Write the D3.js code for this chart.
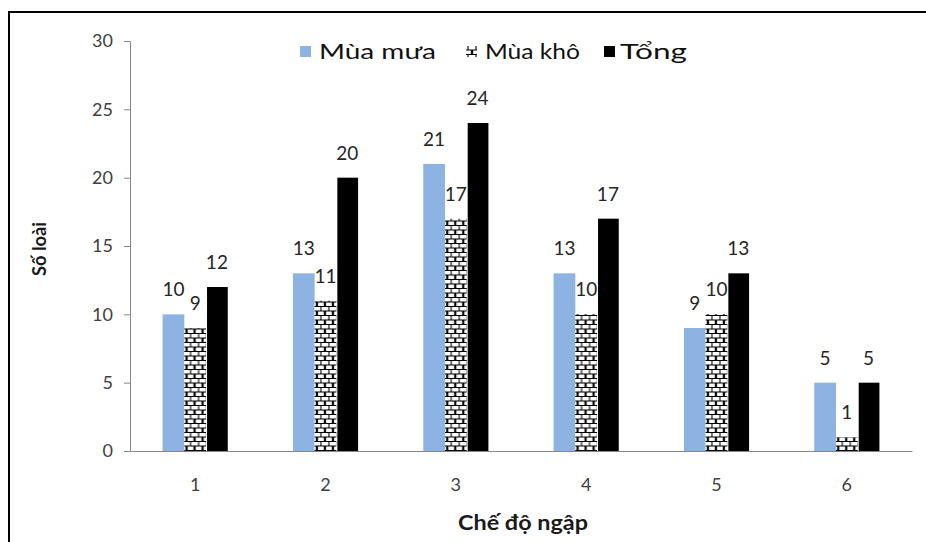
<!DOCTYPE html>
<html>
<head>
<meta charset="utf-8">
<script src="https://cdn.jsdelivr.net/npm/d3@7"></script>
<style>
  html, body { margin: 0; padding: 0; background: #fff; }
  svg { display: block; }
  text { font-family: Lato, "Open Sans", sans-serif; }
</style>
</head>
<body>
<svg id="chart" width="926" height="542"></svg>
<script>
// Flooding regime categories and species counts per season
const categories = ["1", "2", "3", "4", "5", "6"];
const seriesNames = ["Mùa mưa", "Mùa khô", "Tổng"];
const muaMua = [10, 13, 21, 13, 9, 5];
const muaKho = [9, 11, 17, 10, 10, 1];
const tong   = [12, 20, 24, 17, 13, 5];
const yTicks = [0, 5, 10, 15, 20, 25, 30];

const seriesValues = [muaMua, muaKho, tong];
const svg = d3.select("#chart");

// brick hatch for the dry-season bars
const defs = svg.append("defs");
const pat = defs.append("pattern")
  .attr("id", "brick").attr("patternUnits", "userSpaceOnUse")
  .attr("width", 8).attr("height", 9);
pat.append("rect").attr("width", 8).attr("height", 9).attr("fill", "#fff");
pat.append("path").attr("stroke", "#000").attr("stroke-width", 1.1).attr("fill", "none")
  .attr("d", "M0,0.5H8 M0,5H8 M4,0.5V5 M0.6,5V9 M7.4,5V9");

const fills = ["#8db3e2", "url(#brick)", "#000"];

// outer frame
svg.append("rect").attr("x", 9).attr("y", 12).attr("width", 1000).attr("height", 600)
  .attr("fill", "none").attr("stroke", "#000").attr("stroke-width", 2);

const plotLeft = 130, plotRight = 912, plotTop = 41, plotBottom = 451;

const x0 = d3.scaleBand().domain(categories).range([plotLeft, plotRight]);
const groupW = x0.bandwidth() * 0.5;
const x1 = d3.scaleBand().domain(seriesNames).range([0, groupW]);
const y = d3.scaleLinear().domain([0, 30]).range([plotBottom, plotTop]);

// y axis
const yAxis = svg.append("g").attr("transform", `translate(${plotLeft},0)`)
  .call(d3.axisLeft(y).tickValues(yTicks).tickSize(6).tickPadding(11).tickSizeOuter(0));
yAxis.select(".domain").attr("stroke", "#868686");
yAxis.selectAll(".tick line").attr("stroke", "#868686");
yAxis.selectAll(".tick text").attr("font-size", 18).attr("fill", "#404040")
  .style("font-family", "Lato, sans-serif");

// bars
const rows = categories.map((c, i) => ({ c, vals: seriesValues.map((s, k) => ({ name: seriesNames[k], v: s[i], k })) }));
const groups = svg.append("g").selectAll("g").data(rows).join("g")
  .attr("transform", d => `translate(${x0(d.c) + (x0.bandwidth() - groupW) / 2},0)`);

groups.selectAll("rect").data(d => d.vals).join("rect")
  .attr("x", d => x1(d.name) + (d.k === 2 ? 1 : 0))
  .attr("width", d => x1.bandwidth() - (d.k === 2 ? 1 : 0))
  .attr("y", d => y(d.v))
  .attr("height", d => y(0) - y(d.v))
  .attr("fill", d => fills[d.k]);

groups.selectAll("text").data(d => d.vals).join("text")
  .attr("x", d => x1(d.name) + x1.bandwidth() / 2)
  .attr("y", d => y(d.v) - 18)
  .attr("text-anchor", "middle")
  .attr("font-size", 19).attr("fill", "#262626")
  .text(d => d.v);

// x axis
const xAxis = svg.append("g").attr("transform", `translate(0,${plotBottom})`)
  .call(d3.axisBottom(x0).tickSize(0).tickPadding(27).tickSizeOuter(0));
xAxis.select(".domain").attr("stroke", "#868686");
xAxis.selectAll(".tick text").attr("font-size", 18).attr("fill", "#404040")
  .style("font-family", "Lato, sans-serif");

// axis titles
svg.append("text").attr("transform", "translate(46,249) rotate(-90)")
  .attr("text-anchor", "middle").attr("font-size", 19).attr("font-weight", "bold")
  .attr("textLength", 54).attr("lengthAdjust", "spacingAndGlyphs")
  .attr("fill", "#1a1a1a").text("Số loài");
svg.append("text").attr("x", 523).attr("y", 530)
  .attr("text-anchor", "middle").attr("font-size", 20).attr("font-weight", "bold")
  .attr("textLength", 130).attr("lengthAdjust", "spacingAndGlyphs")
  .attr("fill", "#1a1a1a").text("Chế độ ngập");

// legend
const legendPos = [
  { sx: 300, tx: 319, w: 117 },
  { sx: 466, tx: 485, w: 95 },
  { sx: 604, tx: 620, w: 67 }
];
const leg = svg.append("g");
seriesNames.forEach((n, k) => {
  const p = legendPos[k];
  leg.append("rect").attr("x", p.sx).attr("y", 46).attr("width", 11).attr("height", 11)
    .attr("fill", fills[k]);
  leg.append("text").attr("x", p.tx).attr("y", 59).attr("font-size", 21)
    .attr("textLength", p.w).attr("lengthAdjust", "spacingAndGlyphs")
    .attr("fill", "#111").text(n);
});
</script>
</body>
</html>
